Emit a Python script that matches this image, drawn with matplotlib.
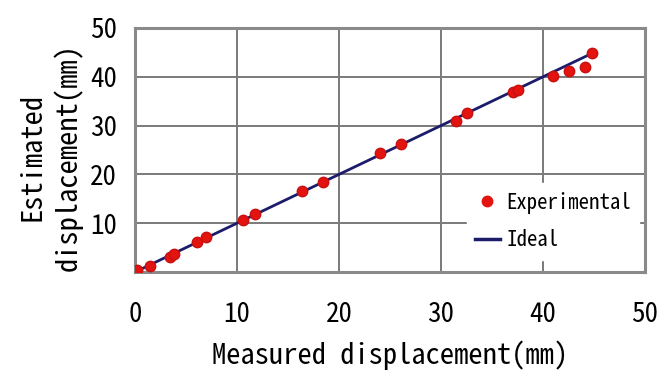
import matplotlib
matplotlib.use("Agg")
import matplotlib.pyplot as plt
from matplotlib.lines import Line2D

plt.rcParams['font.family'] = ['Noto Sans Mono CJK JP', 'Liberation Mono', 'DejaVu Sans']

# Experimental data (measured vs estimated displacement, mm)
measured = [0.2, 1.5, 3.4, 3.8, 6.1, 7.0, 10.6, 11.8, 16.4, 18.4, 24.0,
            26.1, 31.5, 32.5, 37.1, 37.5, 41.0, 42.5, 44.1, 44.8]
estimated = [0.4, 1.2, 3.1, 3.7, 6.1, 7.1, 10.7, 11.9, 16.5, 18.5, 24.3,
             26.3, 30.9, 32.6, 36.9, 37.3, 40.1, 41.2, 42.1, 44.8]
ideal_x = [0.5, 44.8]
ideal_y = [0.5, 44.8]

x_ticks = [0, 10, 20, 30, 40, 50]
y_ticks = [10, 20, 30, 40, 50]

fig = plt.figure(figsize=(6.59, 3.70), dpi=100)
ax = fig.add_axes([135/659, 1-272/370, (645-135)/659, (272-28)/370])

ax.plot(ideal_x, ideal_y, color='#1c1c6b', lw=2.0, zorder=3, label='Ideal')
ax.plot(measured, estimated, 'o', color='#e3140f', mec='#c81010', ms=7.5,
        zorder=4, label='Experimental')

ax.set_xlim(0, 50)
ax.set_ylim(0, 50)
ax.set_xticks(x_ticks)
ax.set_yticks(y_ticks)
ax.tick_params(axis='both', length=0, labelsize=19.5)
ax.tick_params(axis='x', pad=21)
ax.tick_params(axis='y', pad=13)
ax.grid(True, color='#7a7a7a', lw=1.4)
ax.set_axisbelow(True)
for s in ax.spines.values():
    s.set_color('#8a8a8a')
    s.set_linewidth(2.2)

ax.set_xlabel('Measured displacement(mm)', fontsize=20.5, labelpad=9)
ax.set_ylabel('Estimated\ndisplacement(mm)', fontsize=20.5, linespacing=1.3)
ax.yaxis.set_label_coords(-0.102, 0.47)

handles = [Line2D([], [], marker='o', ls='none', color='#e3140f', ms=7.5),
           Line2D([], [], color='#1c1c6b', lw=2.5)]
leg = ax.legend(handles, ['Experimental', 'Ideal'], loc='lower right',
                bbox_to_anchor=(0.997, 0.034), frameon=True, fontsize=15,
                handlelength=1.2, handletextpad=0.3, labelspacing=0.75,
                borderaxespad=0.2)
leg.get_frame().set_edgecolor('white')
leg.get_frame().set_facecolor('white')
leg.get_frame().set_alpha(1.0)

fig.savefig('out.png', dpi=100, facecolor='white')
